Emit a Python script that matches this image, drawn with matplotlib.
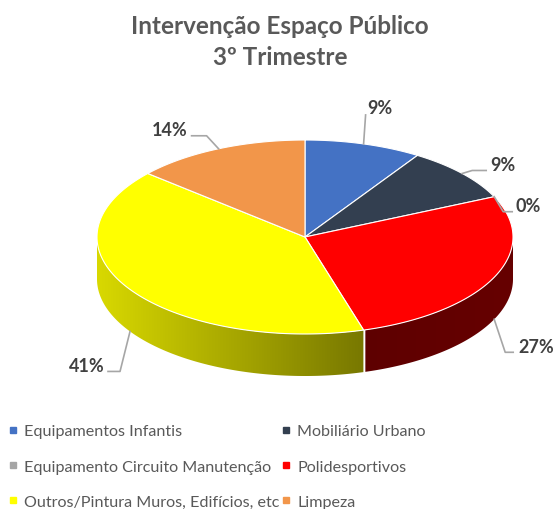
import numpy as np
import matplotlib
matplotlib.use("Agg")
import matplotlib.pyplot as plt
from matplotlib.patches import Polygon
from matplotlib.lines import Line2D
from matplotlib.colors import to_rgb

plt.rcParams['font.family'] = ['Lato', 'DejaVu Sans']

# dados (número de intervenções no 3º trimestre)
categorias = ["Equipamentos Infantis", "Mobiliário Urbano",
              "Equipamento Circuito Manutenção", "Polidesportivos",
              "Outros/Pintura Muros, Edifícios, etc", "Limpeza"]
valores = [2, 2, 0, 6, 9, 3]
titulo = "Intervenção Espaço Público\n3º Trimestre"

cores = ["#4472C4", "#333F50", "#A5A5A5", "#FF0000", "#FFFF00", "#F2964A"]
# sombreado da parte lateral (esquerda -> direita)
sombra = [(0.6, 0.6), (0.5, 0.5), (0.6, 0.6), (0.37, 0.40), (0.85, 0.47), (0.6, 0.6)]
# posição das etiquetas relativamente ao ponto de ancoragem: cotovelo, fim, texto
etiq = [((2, -29), (2, -29), (4, -36), "left"),
        ((10, -3), (24, -3), (28, -9), "left"),
        ((9, 15), (18, 15), (21, 9), "left"),
        ((11, 33), (19, 33), (24, 27), "left"),
        ((-10, 40), (-22, 40), (-25, 34), "right"),
        ((-12, -13), (-27, -13), (-31, -19), "right")]

# geometria do "pie" 3D (pixels)
cx, cy = 305, 238
a, b = 208, 97
prof = 42

fig = plt.figure(figsize=(5.59, 5.10), dpi=100)
ax = fig.add_axes([0, 0, 1, 1])
ax.set_xlim(0, 559)
ax.set_ylim(510, 0)
ax.axis("off")

def pt(t):
    r = np.radians(t)
    return cx + a * np.cos(r), cy - b * np.sin(r)

total = sum(valores)
frac = np.array(valores) / total
fim = 90 - 360 * np.cumsum(frac)
ini = np.concatenate([[90], fim[:-1]])

# partes laterais
for i in range(len(valores)):
    if valores[i] == 0:
        continue
    t = np.linspace(fim[i], ini[i], max(int((ini[i] - fim[i]) * 3), 2))
    frente = t[np.sin(np.radians(t)) < 0]
    if len(frente) < 2:
        continue
    xs, ys = pt(frente)
    verts = list(zip(xs, ys)) + list(zip(xs[::-1], ys[::-1] + prof))
    lado = Polygon(verts, closed=True, facecolor="none", edgecolor="none")
    ax.add_patch(lado)
    base = np.array(to_rgb(cores[i]))
    f = np.linspace(sombra[i][0], sombra[i][1], 256)
    grad = (f[:, None] * base[None, :])[None, :, :]
    x0, x1 = xs.min(), xs.max()
    im = ax.imshow(grad, extent=(x0, x1, ys.max() + prof, ys.min()),
                   aspect="auto", interpolation="bilinear", zorder=1)
    im.set_clip_path(lado)
    # aresta vertical
    for tb in (ini[i], fim[i]):
        if np.sin(np.radians(tb)) < 0:
            x, y = pt(tb)
            ax.plot([x, x], [y, y + prof], color="white", lw=1, zorder=2)

ax.set_xlim(0, 559)
ax.set_ylim(510, 0)

# topo
for i in range(len(valores)):
    if valores[i] == 0:
        continue
    t = np.linspace(ini[i], fim[i], 200)
    xs, ys = pt(t)
    verts = [(cx, cy)] + list(zip(xs, ys))
    ax.add_patch(Polygon(verts, closed=True, facecolor=cores[i],
                         edgecolor="white", lw=0.8, zorder=3))

# etiquetas
for i in range(len(valores)):
    meio = (ini[i] + fim[i]) / 2
    x, y = pt(meio)
    if np.sin(np.radians(meio)) < 0:
        y = y + prof
    cot, fe, tx, ha = etiq[i]
    ax.plot([x, x + cot[0], x + fe[0]], [y, y + cot[1], y + fe[1]],
            color="#A6A6A6", lw=1.2, zorder=4)
    ax.text(x + tx[0], y + tx[1], f"{round(frac[i] * 100):.0f}%", ha=ha, va="center",
            fontsize=13, fontweight="bold", color="#404040")

# título
ax.text(280, 42, titulo, ha="center", va="center", fontsize=17.5,
        fontweight="bold", color="#595959", linespacing=1.4)

# legenda (ordem por linhas, como no original)
ordem = [0, 2, 4, 1, 3, 5]
handles = [Line2D([], [], marker="s", ls="", color=cores[i], markersize=4.5) for i in ordem]
fig.legend(handles, [categorias[i] for i in ordem], ncol=2, frameon=False,
           loc="upper left", bbox_to_anchor=(-0.012, 0.195), fontsize=11.6,
           handlelength=0.6, handletextpad=0.4, columnspacing=0.1,
           labelspacing=1.3, labelcolor="#595959")

fig.savefig("out.png", dpi=100)
